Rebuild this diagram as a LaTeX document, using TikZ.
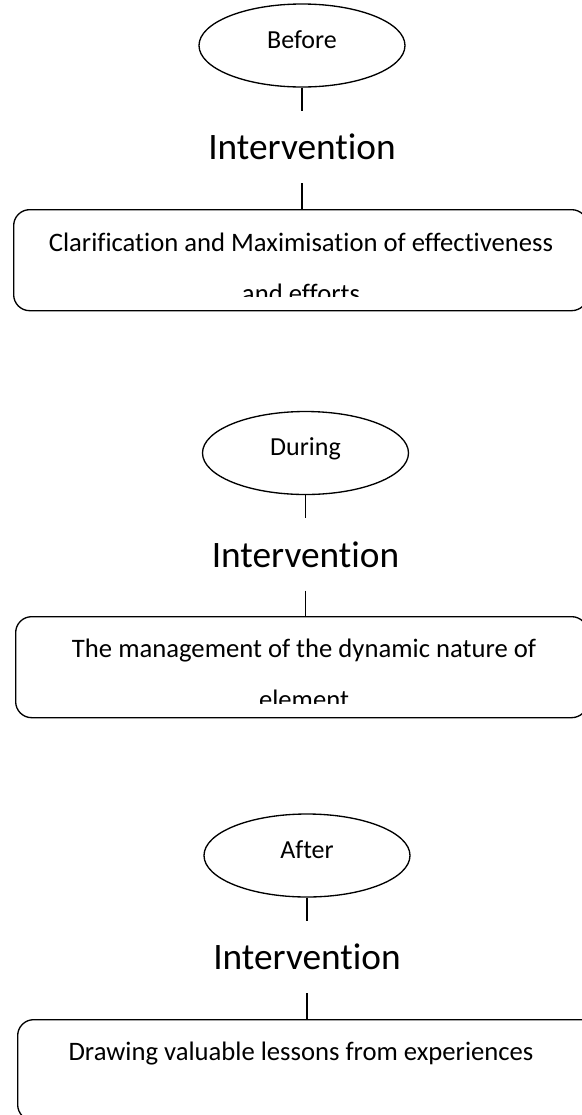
\documentclass[tikz,border=0pt]{standalone}
\usepackage{fontspec}
\setmainfont{Carlito}[Ligatures=NoCommon]
\usetikzlibrary{positioning,shapes.geometric}
\begin{document}
\begin{tikzpicture}[x=0.75pt,y=-0.75pt,line width=1pt]
\tikzstyle{phase} = [ellipse, draw, inner sep=0pt, minimum width=154.5pt, minimum height=62.25pt,
    font=\fontsize{19.5}{23}\selectfont, text height=0.75em, text depth=0.32em]
\tikzstyle{interv} = [inner sep=0pt, minimum height=53.25pt, font=\fontsize{28}{33}\selectfont]
\tikzstyle{stagebox} = [draw, rounded corners=12pt, inner sep=0pt, anchor=north west, minimum height=75.75pt]
\tikzstyle{stagetext} = [align=center, inner sep=0pt, anchor=base, font=\fontsize{20}{38.25}\selectfont]
\useasboundingbox (0,0) rectangle (582,1115);

% before
\node[phase] (before) at (302,45.5) {Before};
\node[interv, below=17.25pt of before] (int1) {Intervention};
\node[stagebox, minimum width=430.5pt] (box1) at (13,209) {};
\begin{scope}
  \clip (box1.north west) rectangle ([yshift=11.25pt]box1.south east);
  \node[stagetext] (txt1) at (301,302) {Clarification and Maximisation of effectiveness\\and efforts};
\end{scope}
\draw (before) -- (int1);
\draw (int1) -- (int1.south |- box1.north);

% during
\node[phase] (during) at (305.5,453) {During};
\node[interv, below=17.25pt of during] (int2) {Intervention};
\node[stagebox, minimum width=429pt] (box2) at (15,616) {};
\begin{scope}
  \clip (box2.north west) rectangle ([yshift=11.25pt]box2.south east);
  \node[stagetext] (txt2) at (304,708) {The management of the dynamic nature of\\element};
\end{scope}
\draw (during) -- (int2);
\draw (int2) -- (int2.south |- box2.north);

% after
\node[phase] (after) at (307,855.5) {After};
\node[interv, below=17.25pt of after] (int3) {Intervention};
\node[stagebox, minimum width=435.75pt] (box3) at (17,1019) {};
\node[stagetext] (txt3) at (301,1060) {Drawing valuable lessons from experiences};
\draw (after) -- (int3);
\draw (int3) -- (int3.south |- box3.north);
\end{tikzpicture}
\end{document}
